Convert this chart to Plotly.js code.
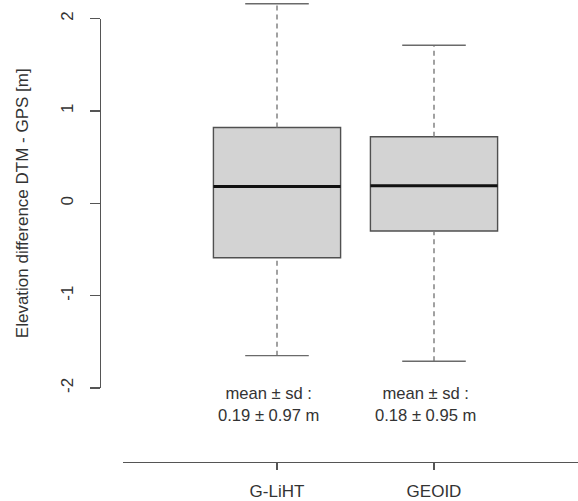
<!DOCTYPE html>
<html>
<head>
<meta charset="utf-8">
<script src="https://cdn.plot.ly/plotly-3.0.1.min.js"></script>
<style>
  html, body { margin: 0; padding: 0; background: #fff; }
  #plot { width: 578px; height: 501px; }
</style>
</head>
<body>
<div id="plot"></div>
<script>
// Elevation difference between the DTM and GPS check points, per reference surface
const groups = ['G-LiHT', 'GEOID'];
const lowerWhisker = [-1.65, -1.71];
const q1 = [-0.59, -0.30];
const median = [0.18, 0.19];
const q3 = [0.82, 0.72];
const upperWhisker = [2.16, 1.71];
const means = [0.19, 0.18];
const sds = [0.97, 0.95];
const yTicks = [-2, -1, 0, 1, 2];

const W = 578, H = 501;
const boxWidth = 0.81;      // in category units
const capWidth = boxWidth / 2;

const outline = '#505050';
const traces = [];

groups.forEach(function (g, i) {
  // box body (quartiles and median); whiskers drawn separately as dashed lines
  traces.push({
    type: 'box', x: [i], q1: [q1[i]], median: [median[i]], q3: [q3[i]],
    lowerfence: [q1[i]], upperfence: [q3[i]],
    width: boxWidth, whiskerwidth: 0,
    fillcolor: '#d3d3d3', line: { color: outline, width: 1.4 },
    boxpoints: false, hoverinfo: 'skip', showlegend: false,
    xaxis: 'x', yaxis: 'y'
  });
  // dashed whiskers
  [[q3[i], upperWhisker[i]], [lowerWhisker[i], q1[i]]].forEach(function (seg) {
    traces.push({
      type: 'scatter', mode: 'lines', x: [i, i], y: seg,
      line: { color: '#7a7a7a', width: 1.4, dash: '5px,4px' },
      hoverinfo: 'skip', showlegend: false, xaxis: 'x', yaxis: 'y'
    });
  });
  // whisker caps
  [upperWhisker[i], lowerWhisker[i]].forEach(function (v) {
    traces.push({
      type: 'scatter', mode: 'lines', x: [i - capWidth / 2, i + capWidth / 2], y: [v, v],
      line: { color: '#6a6a6a', width: 1.4 },
      hoverinfo: 'skip', showlegend: false, xaxis: 'x', yaxis: 'y'
    });
  });
  // thick median bar
  traces.push({
    type: 'scatter', mode: 'lines', x: [i - boxWidth / 2, i + boxWidth / 2], y: [median[i], median[i]],
    line: { color: '#111111', width: 3 },
    hoverinfo: 'skip', showlegend: false, xaxis: 'x', yaxis: 'y'
  });
});

// empty trace so the labelled y axis gets drawn
traces.push({ type: 'scatter', x: [], y: [], xaxis: 'x', yaxis: 'y2', showlegend: false, hoverinfo: 'skip' });

const font = { family: 'Liberation Sans, Arial, sans-serif', size: 17, color: '#333' };
const captionFont = { family: 'Liberation Sans, Arial, sans-serif', size: 16.6, color: '#333' };

// mean ± sd captions under each box
const annotations = groups.map(function (g, i) {
  return {
    xref: 'x', yref: 'y', x: i, y: -1.94, yanchor: 'top', xanchor: 'center',
    xshift: -9,
    text: 'mean ± sd :<br>' + means[i].toFixed(2) + ' ± ' + sds[i].toFixed(2) + ' m',
    showarrow: false, align: 'center',
    font: captionFont
  };
});

// pixel geometry of the plotting region
const yTopPx = 18.5, yBotPx = 388;          // pixel rows of y = 2 and y = -2
const pxPerUnit = (yBotPx - yTopPx) / 4;
const y0Px = yTopPx + 2 * pxPerUnit;
const xLeftPx = 123, c0Px = 277, c1Px = 434;
const pxPerCat = c1Px - c0Px;

const layout = {
  width: W, height: H,
  margin: { l: 0, r: 0, t: 0, b: 0 },
  paper_bgcolor: '#fff', plot_bgcolor: 'rgba(0,0,0,0)',
  showlegend: false,
  font: font,
  xaxis: {
    domain: [xLeftPx / W, 1],
    range: [-(c0Px - xLeftPx) / pxPerCat, 1 + (W - c1Px) / pxPerCat],
    anchor: 'free', position: 1 - 462 / H,
    tickvals: [0, 1], ticktext: groups,
    showline: true, linecolor: '#555', linewidth: 1.3,
    ticks: 'outside', ticklen: 7, tickcolor: '#555', tickwidth: 1.3,
    ticklabelstandoff: 6,
    showgrid: false, zeroline: false, fixedrange: true,
    tickfont: font
  },
  yaxis: {
    domain: [0, 1],
    range: [-(H - y0Px) / pxPerUnit, y0Px / pxPerUnit],
    visible: false, anchor: 'free', position: 0, fixedrange: true
  },
  yaxis2: {
    domain: [1 - yBotPx / H, 1 - yTopPx / H],
    range: [-2, 2],
    anchor: 'free', position: 100 / W,
    tickvals: yTicks, ticktext: yTicks.map(String),
    tickangle: -90,
    showline: true, linecolor: '#555', linewidth: 1.3,
    ticks: 'outside', ticklen: 10, tickcolor: '#555', tickwidth: 1.3,
    ticklabelstandoff: 10,
    showgrid: false, zeroline: false, fixedrange: true,
    tickfont: font,
    title: { text: 'Elevation difference DTM - GPS [m]', font: font, standoff: 24 }
  },
  annotations: annotations
};

Plotly.newPlot('plot', traces, layout, { staticPlot: true, displayModeBar: false });
</script>
</body>
</html>
